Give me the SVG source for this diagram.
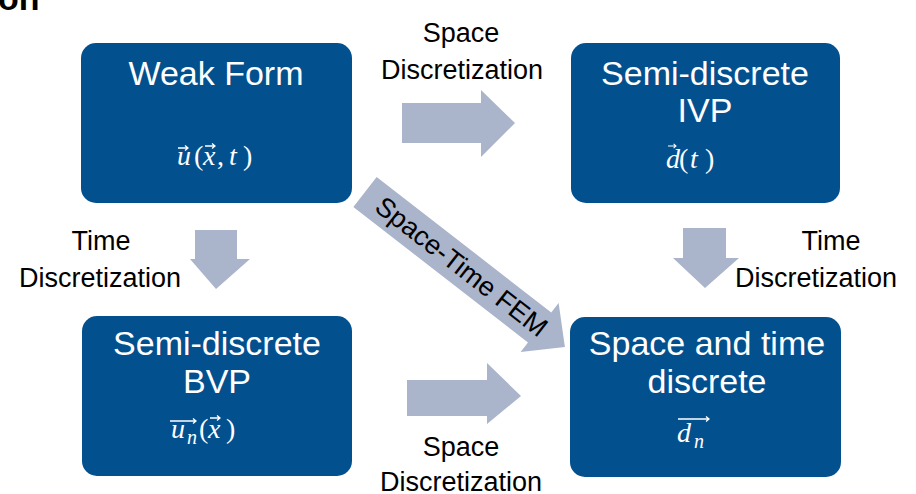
<svg xmlns="http://www.w3.org/2000/svg" width="916" height="494" viewBox="0 0 916 494">
  <style>
    .box { fill: #03508F; }
    .ttl { font-family: "Liberation Sans", Arial, sans-serif; font-size: 34px; fill: #ffffff; text-anchor: middle; }
    .lbl { font-family: "Liberation Sans", Arial, sans-serif; font-size: 27px; fill: #000000; text-anchor: middle; }
    .math { font-family: "Liberation Serif", "Times New Roman", serif; font-size: 28px; fill: #ffffff; }
    .it { font-style: italic; }
    .sub { font-size: 20px; font-style: italic; }
    .vec { stroke: #ffffff; stroke-width: 1.3; fill: none; }
    .flow { fill: #AAB4CB; }
  </style>
  <defs>
    <!-- small vector accent: shaft plus head, drawn at the origin, 10 px wide -->
    <path id="vecAcc" d="M0 0 H10 M7 -2.6 L10 0 L7 2.6" class="vec"/>
  </defs>

  <!-- truncated heading -->
  <text x="-2" y="10" font-family="Liberation Sans, Arial, sans-serif" font-size="34" font-weight="bold" fill="#000">on</text>

  <!-- connectors -->
  <g id="connectors">
    <!-- space discretization (top) -->
    <path class="flow" d="M402 103 H481 V90 L515 123 L481 157 V143 H402 Z"/>
    <!-- space discretization (bottom) -->
    <path class="flow" d="M407 380 H487 V363 L521 396 L487 424 V416 H407 Z"/>
    <!-- time discretization (left) -->
    <path class="flow" d="M195 230 H237 V259 H250 L216 289 L190 259 H195 Z"/>
    <!-- time discretization (right) -->
    <path class="flow" d="M683 228 H726 V258 H739 L705 288 L673 258 H683 Z"/>
    <!-- space-time FEM diagonal -->
    <g transform="translate(365 192) rotate(37.8)">
      <path class="flow" d="M0 -19 H221 V-31 L253 0 L221 31 V19 H0 Z"/>
      <text x="122" y="0" dominant-baseline="central" text-anchor="middle" font-family="Liberation Sans, Arial, sans-serif" font-size="27" fill="#000">Space-Time FEM</text>
    </g>

    <text class="lbl" x="461" y="42">Space</text>
    <text class="lbl" x="462" y="79">Discretization</text>
    <text class="lbl" x="101" y="250">Time</text>
    <text class="lbl" x="100" y="287">Discretization</text>
    <text class="lbl" x="831" y="250">Time</text>
    <text class="lbl" x="816" y="287">Discretization</text>
    <text class="lbl" x="461" y="456">Space</text>
    <text class="lbl" x="461" y="491">Discretization</text>
  </g>

  <!-- weak form -->
  <g id="weak-form">
    <rect class="box" x="81" y="43" width="271" height="160" rx="15"/>
    <text class="ttl" x="216" y="85">Weak Form</text>
    <text class="math" y="165"><tspan class="it" x="177">u</tspan><tspan x="194">(</tspan><tspan class="it" x="203">x</tspan><tspan x="217">,</tspan><tspan class="it" x="229">t</tspan><tspan x="243">)</tspan></text>
    <use href="#vecAcc" x="178" y="148"/>
    <use href="#vecAcc" x="205" y="146"/>
  </g>

  <!-- semi-discrete IVP -->
  <g id="semi-discrete-ivp">
    <rect class="box" x="571" y="43" width="269" height="160" rx="15"/>
    <text class="ttl" x="705" y="85">Semi-discrete</text>
    <text class="ttl" x="705" y="122">IVP</text>
    <text class="math" y="168"><tspan class="it" x="666">d</tspan><tspan x="679">(</tspan><tspan class="it" x="690">t</tspan><tspan x="705">)</tspan></text>
    <use href="#vecAcc" x="668" y="146" transform="translate(668 146) scale(0.8) translate(-668 -146)"/>
  </g>

  <!-- semi-discrete BVP -->
  <g id="semi-discrete-bvp">
    <rect class="box" x="82" y="316" width="270" height="160" rx="15"/>
    <text class="ttl" x="217" y="355">Semi-discrete</text>
    <text class="ttl" x="217" y="393">BVP</text>
    <text class="math" y="438"><tspan class="it" x="171">u</tspan><tspan class="sub" x="187" y="444">n</tspan><tspan x="199" y="438">(</tspan><tspan class="it" x="208">x</tspan><tspan x="226">)</tspan></text>
    <path class="vec" d="M170 421 H196 M193 418.4 L196 421 L193 423.6"/>
    <use href="#vecAcc" x="210" y="418"/>
  </g>

  <!-- space and time discrete -->
  <g id="space-time-discrete">
    <rect class="box" x="570" y="317" width="271" height="160" rx="15"/>
    <text class="ttl" x="707" y="355">Space and time</text>
    <text class="ttl" x="707" y="393">discrete</text>
    <text class="math" y="442"><tspan class="it" x="677">d</tspan><tspan class="sub" x="694" y="448">n</tspan></text>
    <path class="vec" d="M678 419 H709 M706 416.4 L709 419 L706 421.6"/>
  </g>
</svg>
